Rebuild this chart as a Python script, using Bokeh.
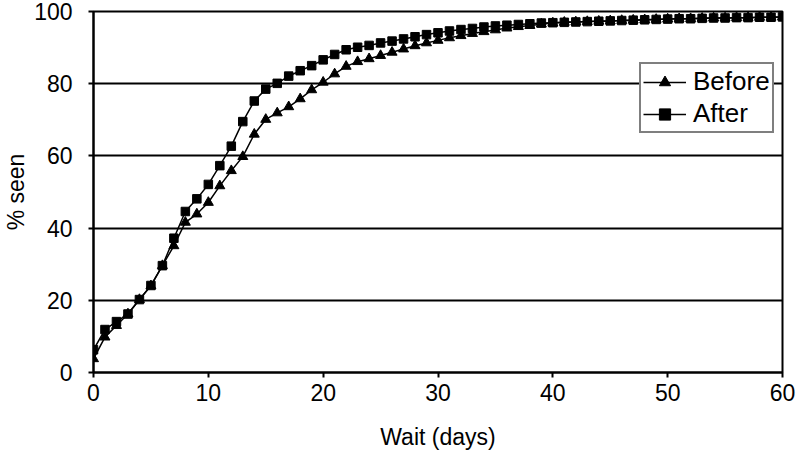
from bokeh.plotting import figure
from bokeh.models import Range1d, FixedTicker, Legend, LegendItem
from bokeh.embed import file_html
from bokeh.resources import INLINE

days = list(range(0, 61))
before = [3.8, 9.8, 13.0, 16.2, 20.2, 24.0, 29.6, 35.1, 41.6, 43.9,
          47.1, 51.7, 55.9, 59.8, 66.0, 70.1, 71.9, 73.6, 75.8, 78.3,
          80.4, 82.7, 84.8, 86.1, 86.9, 87.8, 88.7, 89.6, 90.5, 91.3,
          92.0, 92.7, 93.3, 93.9, 94.4, 94.9, 95.4, 95.8, 96.1, 96.5,
          96.8, 97.0, 97.1, 97.2, 97.3, 97.4, 97.5, 97.6, 97.7, 97.8,
          97.9, 98.0, 98.0, 98.1, 98.2, 98.2, 98.3, 98.3, 98.4, 98.4, 98.5]
after = [6.3, 11.9, 14.1, 16.2, 20.2, 24.1, 29.6, 37.2, 44.6, 48.1,
         52.1, 57.3, 62.7, 69.5, 75.2, 78.5, 80.1, 82.1, 83.6, 85.0,
         86.6, 88.1, 89.4, 90.1, 90.6, 91.3, 91.8, 92.4, 93.0, 93.6,
         94.1, 94.6, 95.0, 95.3, 95.7, 96.0, 96.2, 96.4, 96.6, 96.8,
         96.9, 97.0, 97.1, 97.2, 97.3, 97.4, 97.5, 97.6, 97.7, 97.8,
         97.9, 98.0, 98.0, 98.1, 98.2, 98.2, 98.3, 98.3, 98.4, 98.4, 98.5]
x_ticks = [0, 10, 20, 30, 40, 50, 60]
y_ticks = [0, 20, 40, 60, 80, 100]

FONT = "Liberation Sans"

p = figure(width=798, height=459, output_backend="svg", toolbar_location=None,
           x_range=Range1d(0, 60), y_range=Range1d(0, 100),
           min_border_left=92, min_border_right=16, min_border_top=11, min_border_bottom=87)
p.background_fill_color = "white"
p.border_fill_color = "white"
p.outline_line_color = "black"
p.outline_line_width = 2

p.xgrid.visible = False
p.ygrid.ticker = FixedTicker(ticks=[20, 40, 60, 80])
p.ygrid.grid_line_color = "black"
p.ygrid.grid_line_width = 2

for ax in (p.xaxis[0], p.yaxis[0]):
    ax.axis_line_color = "black"
    ax.axis_line_width = 2
    ax.major_tick_line_color = "black"
    ax.major_tick_line_width = 2
    ax.major_tick_out = 5
    ax.major_tick_in = 0
    ax.minor_tick_line_color = None
    ax.major_label_text_font = FONT
    ax.major_label_text_font_size = "23px"
    ax.major_label_text_color = "black"
    ax.axis_label_text_font = FONT
    ax.axis_label_text_font_size = "23px"
    ax.axis_label_text_font_style = "normal"
    ax.axis_label_text_color = "black"

p.xaxis.ticker = FixedTicker(ticks=x_ticks)
p.yaxis.ticker = FixedTicker(ticks=y_ticks)
p.xaxis.axis_label = "Wait (days)"
p.yaxis.axis_label = "% seen"
p.xaxis.major_label_standoff = 6
p.yaxis.major_label_standoff = 16
p.xaxis.axis_label_standoff = 20
p.yaxis.axis_label_standoff = 2

l1 = p.line(days, before, line_color="black", line_width=1.5)
m1 = p.scatter(days, before, marker="triangle", size=10, fill_color="black", line_color="black")
l2 = p.line(days, after, line_color="black", line_width=1.5)
m2 = p.scatter(days, after, marker="square", size=8.5, fill_color="black", line_color="black")

legend = Legend(items=[LegendItem(label="Before", renderers=[l1, m1]),
                       LegendItem(label="After", renderers=[l2, m2])],
                location=(546, 239))
legend.label_text_font = FONT
legend.label_text_font_size = "26px"
legend.label_text_color = "black"
legend.border_line_color = "black"
legend.border_line_width = 2
legend.background_fill_color = "white"
legend.background_fill_alpha = 1
legend.glyph_width = 43
legend.glyph_height = 28
legend.label_height = 28
legend.spacing = 1
legend.padding = 2
legend.margin = 0
legend.label_standoff = 7
p.add_layout(legend, "center")

open("out.html", "w").write(file_html(p, INLINE))
